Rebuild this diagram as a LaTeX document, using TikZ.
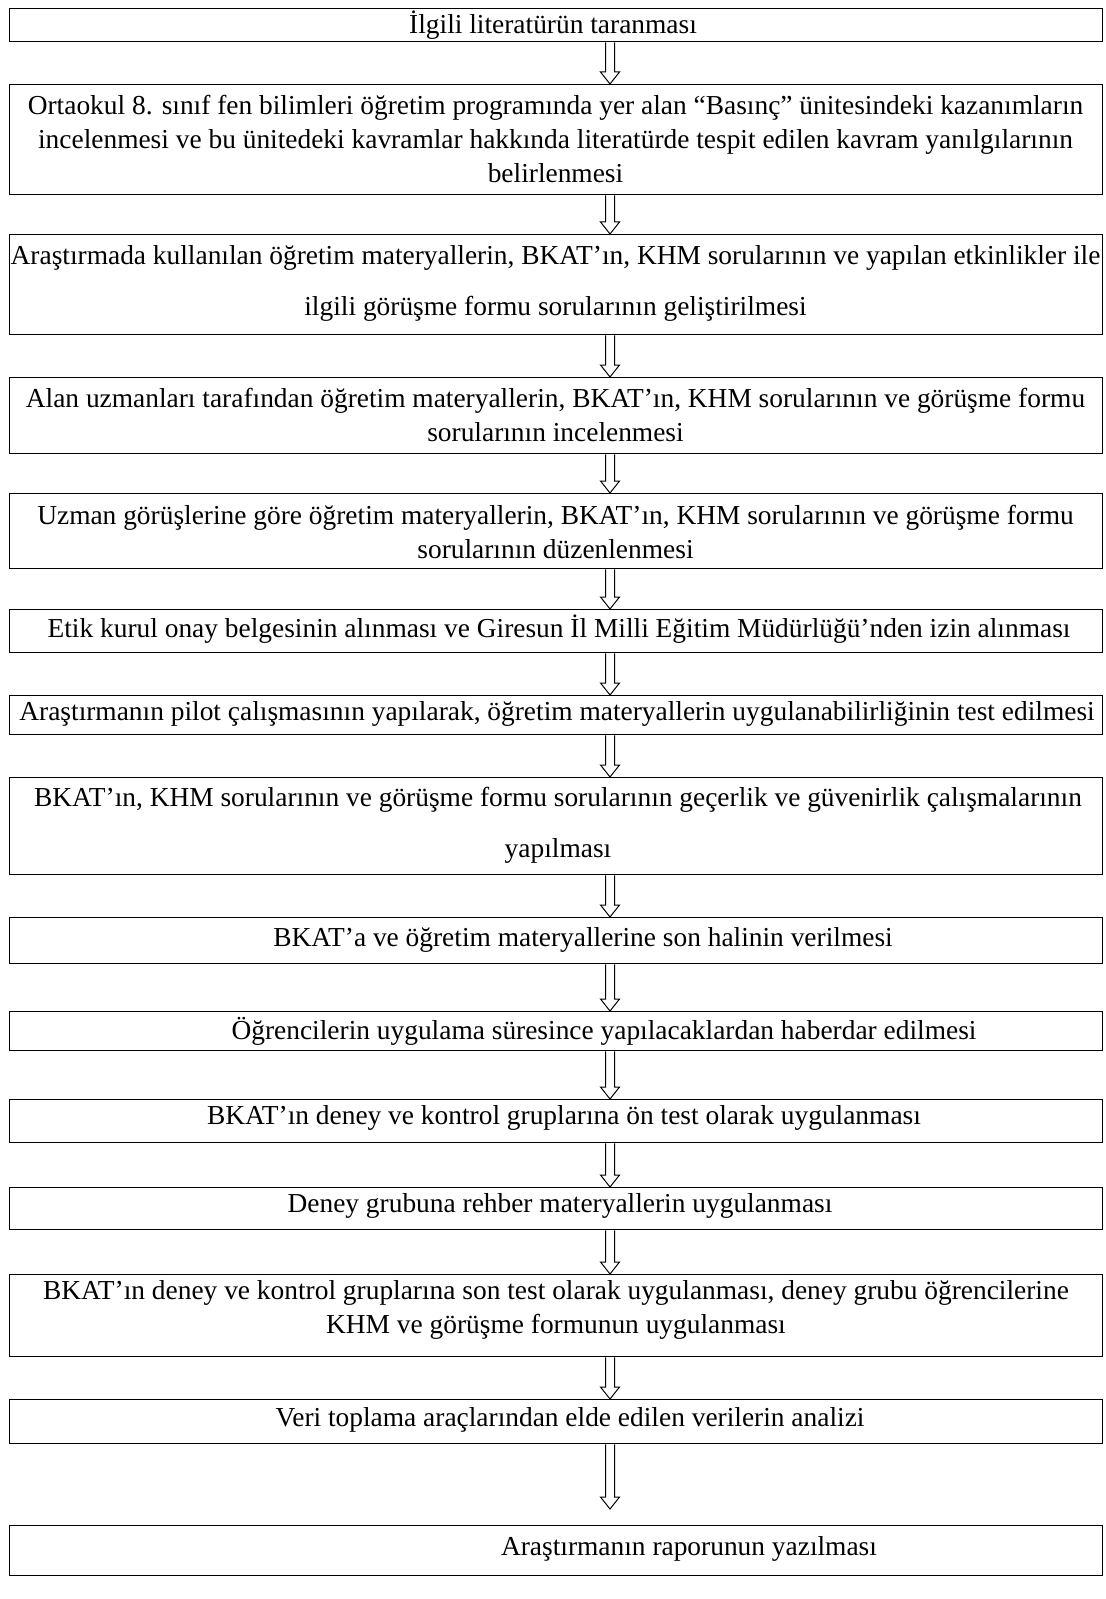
\documentclass[tikz,border=0pt]{standalone}
\usepackage{fontspec}
\setmainfont{Liberation Serif}
\usetikzlibrary{calc}
\newcommand\hollowarr[2]{%
  \draw[harrow] ($(#1)+(-4.5,0)$) -- ($(#2)+(-4.5,-12)$) -- ($(#2)+(-9.5,-12)$) -- (#2)
    -- ($(#2)+(9.5,-12)$) -- ($(#2)+(4.5,-12)$) -- ($(#1)+(4.5,0)$);}
\begin{document}
\begin{tikzpicture}[x=0.5pt,y=-0.5pt,
  box/.style={draw, line width=0.65pt, minimum width=546.5pt, inner sep=0pt, anchor=north west},
  txt/.style={inner sep=0pt, align=center, font=\fontsize{13.7pt}{17pt}\selectfont},
  txtwide/.style={inner sep=0pt, align=center, font=\fontsize{13.7pt}{25.5pt}\selectfont},
  harrow/.style={draw, line width=0.5pt, line join=miter, fill=white}]
\useasboundingbox (0,0) rectangle (1105,1599);
\coordinate (ax) at (610,0);
% boxes (top y, height)
\node[box, minimum height=16.5pt] (b1) at (9,8) {};
\node[box, minimum height=55pt] (b2) at (9,84) {};
\node[box, minimum height=50pt] (b3) at (9,234) {};
\node[box, minimum height=38pt] (b4) at (9,377) {};
\node[box, minimum height=37.5pt] (b5) at (9,493) {};
\node[box, minimum height=21.5pt] (b6) at (9,609) {};
\node[box, minimum height=19.5pt] (b7) at (9,695) {};
\node[box, minimum height=48.5pt] (b8) at (9,777) {};
\node[box, minimum height=23pt] (b9) at (9,917) {};
\node[box, minimum height=19.5pt] (b10) at (9,1011) {};
\node[box, minimum height=21.5pt] (b11) at (9,1099) {};
\node[box, minimum height=21pt] (b12) at (9,1187) {};
\node[box, minimum height=41pt] (b13) at (9,1274) {};
\node[box, minimum height=22pt] (b14) at (9,1399) {};
\node[box, minimum height=25pt] (b15) at (9,1525) {};
% texts
\node[txt] (t1) at (553,25) {İlgili literatürün taranması};
\node[txt] (t2) at (555.5,139) {Ortaokul 8. sınıf fen bilimleri öğretim programında yer alan “Basınç” ünitesindeki kazanımların\\incelenmesi ve bu ünitedeki kavramlar hakkında literatürde tespit edilen kavram yanılgılarının\\belirlenmesi};
\node[txtwide] (t3) at (555.5,283) {Araştırmada kullanılan öğretim materyallerin, BKAT’ın, KHM sorularının ve yapılan etkinlikler ile\\ilgili görüşme formu sorularının geliştirilmesi};
\node[txt] (t4) at (555.5,415) {Alan uzmanları tarafından öğretim materyallerin, BKAT’ın, KHM sorularının ve görüşme formu\\sorularının incelenmesi};
\node[txt] (t5) at (555.5,532) {Uzman görüşlerine göre öğretim materyallerin, BKAT’ın, KHM sorularının ve görüşme formu\\sorularının düzenlenmesi};
\node[txt] (t6) at (559,629) {Etik kurul onay belgesinin alınması ve Giresun İl Milli Eğitim Müdürlüğü’nden izin alınması};
\node[txt] (t7) at (557,714) {Araştırmanın pilot çalışmasının yapılarak, öğretim materyallerin uygulanabilirliğinin test edilmesi};
\node[txtwide] (t8) at (558,825) {BKAT’ın, KHM sorularının ve görüşme formu sorularının geçerlik ve güvenirlik çalışmalarının\\yapılması};
\node[txt] (t9) at (583,940) {BKAT’a ve öğretim materyallerine son halinin verilmesi};
\node[txt] (t10) at (604,1031) {Öğrencilerin uygulama süresince yapılacaklardan haberdar edilmesi};
\node[txt] (t11) at (564,1118) {BKAT’ın deney ve kontrol gruplarına ön test olarak uygulanması};
\node[txt] (t12) at (560,1206) {Deney grubuna rehber materyallerin uygulanması};
\node[txt] (t13) at (556,1310) {BKAT’ın deney ve kontrol gruplarına son test olarak uygulanması, deney grubu öğrencilerine\\KHM ve görüşme formunun uygulanması};
\node[txt] (t14) at (570,1420) {Veri toplama araçlarından elde edilen verilerin analizi};
\node[txt] (t15) at (689,1549) {Araştırmanın raporunun yazılması};
% arrows
\foreach \i/\j in {1/2,2/3,3/4,4/5,5/6,6/7,7/8,8/9,9/10,10/11,11/12,12/13,13/14}{
  \path (b\i.south -| ax) coordinate (s\i) (b\j.north -| ax) coordinate (e\i);
  \hollowarr{s\i}{e\i}
}
\path (b14.south -| ax) coordinate (s14) ($(b15.north -| ax)+(0,-16)$) coordinate (e14);
\hollowarr{s14}{e14}
\end{tikzpicture}
\end{document}
